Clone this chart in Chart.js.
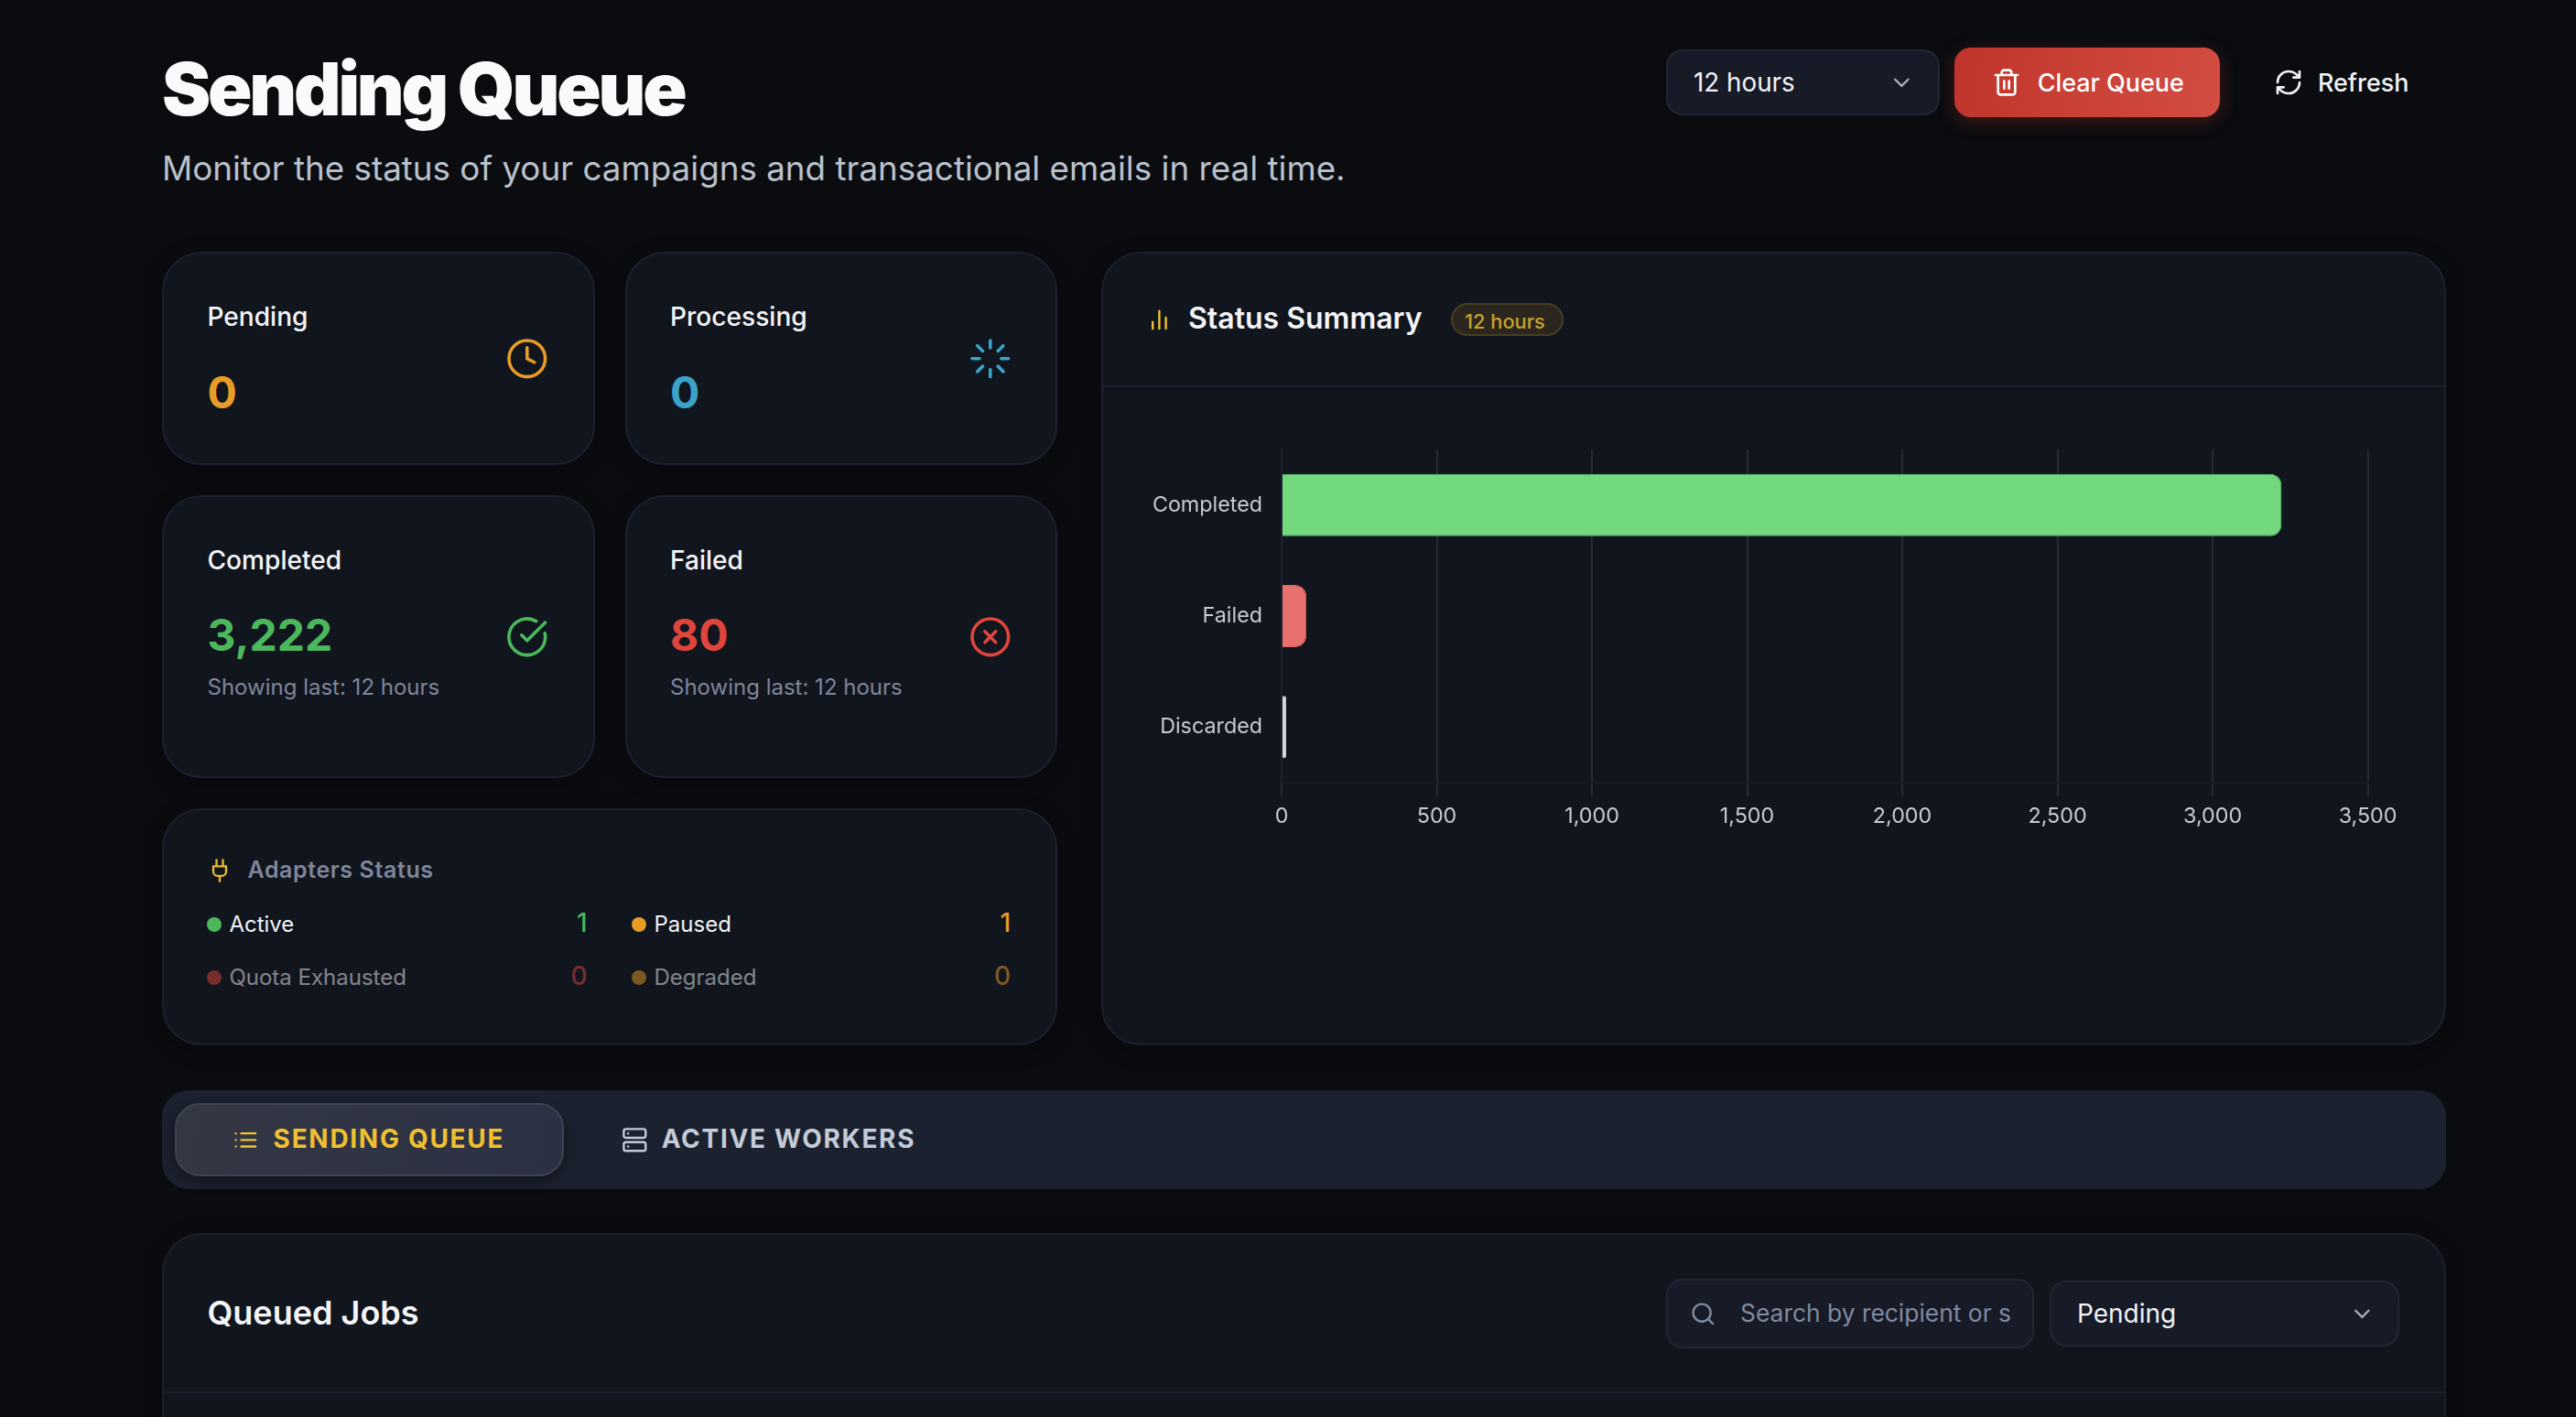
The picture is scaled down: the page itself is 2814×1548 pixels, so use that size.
<!DOCTYPE html>
<html><head><meta charset="utf-8">
<script src="https://cdn.jsdelivr.net/npm/chart.js@4"></script>
<style>
html,body{margin:0;padding:0;width:2814px;height:1548px;overflow:hidden;background:#0a0c10;font-family:Inter,sans-serif;}
#root{position:absolute;left:0;top:0;width:2814px;height:1548px;overflow:hidden;}
.box{position:absolute;box-sizing:border-box;}
.card{background:#11151e;border:2px solid #1b2030;border-radius:43px;box-shadow:0 5px 22px rgba(0,0,0,.32);}
.t{position:absolute;white-space:nowrap;line-height:0;}
svg{position:absolute;fill:none;stroke-linecap:round;stroke-linejoin:round;}
canvas{position:absolute;}
</style></head><body><div id="root"></div>
<script>
const categories=['Completed','Failed','Discarded'];
const statusValues=[3222,80,15];
const barColors=['#72d97f','#e8716d','#d5d8e0'];
const barEdges=['#6ad078','#d9625e','#d5d8e0'];
const xTicksMax=3500, xTicksStep=500;
const rangeLabel='12 hours';
const statCards=[['Pending','0'],['Processing','0'],['Completed','3,222'],['Failed','80']];
const adapterRows=[['Active','1'],['Paused','1'],['Quota Exhausted','0'],['Degraded','0']];

const ICON={
 clock:'<circle cx="12" cy="12" r="10"/><path d="M12 6v6l4 2"/>',
 loader:'<path d="M12 2v4M16.2 7.8l2.9-2.9M18 12h4M16.2 16.2l2.9 2.9M12 18v4M4.9 19.1l2.9-2.9M2 12h4M4.9 4.9l2.9 2.9"/>',
 check:'<path d="M21.801 10A10 10 0 1 1 17 3.335"/><path d="m9 11 3 3L22 4"/>',
 x:'<circle cx="12" cy="12" r="10"/><path d="m15 9-6 6M9 9l6 6"/>',
 plug:'<path d="M12 22v-5M9 8V2M15 8V2M18 8v5a4 4 0 0 1-4 4h-4a4 4 0 0 1-4-4V8Z"/>',
 trash:'<path d="M3 6h18M19 6v14c0 1-1 2-2 2H7c-1 0-2-1-2-2V6M8 6V4c0-1 1-2 2-2h4c1 0 2 1 2 2v2M10 11v6M14 11v6"/>',
 refresh:'<path d="M3 12a9 9 0 0 1 9-9 9.75 9.75 0 0 1 6.74 2.74L21 8M21 3v5h-5M21 12a9 9 0 0 1-9 9 9.75 9.75 0 0 1-6.74-2.74L3 16M8 16H3v5"/>',
 list:'<path d="M3 12h.01M3 18h.01M3 6h.01M8 12h13M8 18h13M8 6h13"/>',
 server:'<rect x="2" y="2" width="20" height="8" rx="2"/><rect x="2" y="14" width="20" height="8" rx="2"/><path d="M6 6h.01M6 18h.01"/>',
 search:'<circle cx="11" cy="11" r="8"/><path d="m21 21-4.3-4.3"/>',
 chevron:'<path d="m6 9 6 6 6-6"/>',
 bars:'<path d="M18 20V10M12 20V4M6 20v-6"/>'
};
const root=document.getElementById('root');
function box(x,y,x2,y2,cls,css){const d=document.createElement('div');d.className='box '+(cls||'');
 d.style.cssText=`left:${x}px;top:${y}px;width:${x2-x}px;height:${y2-y}px;`+(css||'');root.appendChild(d);return d;}
const BASE_NUDGE=0.5;
function text(x,base,s,fs,w,col,extra){const d=document.createElement('div');d.className='t';d.textContent=s;
 d.style.cssText=`left:${x}px;top:${base+BASE_NUDGE-0.364*fs}px;font-size:${fs}px;font-weight:${w};color:${col};`+(extra||'');root.appendChild(d);return d;}
function icon(name,cx,cy,size,col,sw,extra){const ns='http://www.w3.org/2000/svg';const s=document.createElementNS(ns,'svg');
 s.setAttribute('viewBox','0 0 24 24');s.setAttribute('width',size);s.setAttribute('height',size);
 s.style.cssText=`left:${cx-size/2}px;top:${cy-size/2}px;stroke:${col};stroke-width:${sw||2};`+(extra||'');s.innerHTML=ICON[name];root.appendChild(s);}

// header
text(177,126,'Sending Queue',80,900,'#f8fafc','letter-spacing:-3.25px;');
text(177,197,'Monitor the status of your campaigns and transactional emails in real time.',36.8,400,'#b9c1cc');
box(1820,54,2118.5,125.7,'','background:#171b27;border:2px solid #212635;border-radius:18px;');
text(1850,99.5,rangeLabel,27.8,400,'#f1f3f6');
icon('chevron',2077,90,28.7,'#a5adbd',2);
box(2134.7,52,2425,128,'','background:linear-gradient(100deg,#c0352b,#d44d42);border-radius:18px;box-shadow:0 5px 20px rgba(192,57,43,.3);');
icon('trash',2192.4,90,32,'#ffffff',2);
text(2225.7,99.5,'Clear Queue',26.9,500,'#ffffff');
icon('refresh',2500,90,32,'#f1f3f6',2);
text(2532,99.5,'Refresh',26.9,500,'#f1f3f6');

// stat cards
const cardRects=[[177,275,649.5,508],[682.5,275,1154.5,508],[177,541,649.5,850],[682.5,541,1154.5,850]];
const cardColors=['#e89c28','#3ba3c9','#4cb85c','#e0453c'];
const cardIcons=['clock','loader','check','x'];
const cardLabelBase=[356,356,622,622], cardValueBase=[446,446,711,711], cardIconY=[391.7,391.7,696,696];
statCards.forEach((c,i)=>{const r=cardRects[i];box(r[0],r[1],r[2],r[3],'card');
 text(r[0]+49.5,cardLabelBase[i],c[0],28.1,500,'#f4f5f7');
 text(r[0]+49.5,cardValueBase[i],c[1],48,700,cardColors[i]);
 icon(cardIcons[i],r[0]+398.8,cardIconY[i],47.6,cardColors[i],1.8);
 if(i>1)text(r[0]+49.5,759.6,'Showing last: '+rangeLabel,24,400,'#7f869b');
});

// adapters
box(177,883,1154.5,1142,'card');
icon('plug',239.7,950.6,28,'#e8bb2e',2);
text(270.5,959,'Adapters Status',25,600,'#7f869b','letter-spacing:.6px;');
const adapterX=[[233.7,250.4,641.5],[697.8,714.5,1104],[233.7,250.4,641.5],[697.8,714.5,1104]];
const adapterDot=['#4cb85c','#e89c28','#e0453c','#e89c28'];
adapterRows.forEach((a,i)=>{const p=adapterX[i];const row=i<2?0:1;const op=row?'opacity:.5;':'';
 const cy=row?1067.8:1009.8, b=row?1076:1018;
 box(p[0]-8,cy-8,p[0]+8,cy+8,'',`background:${adapterDot[i]};border-radius:50%;`+op);
 text(p[1],b,a[0],24,400,'#f1f3f6',op);
 const v=text(0,b,a[1],28,500,adapterDot[i],op);v.style.left='auto';v.style.right=(2814-p[2])+'px';
});

// status panel
box(1203,275,2671.5,1142,'card');
box(1205,421,2669.5,423,'','background:#1b2030;');
icon('bars',1266.7,349.6,28.8,'#f0c030',2);
text(1298,359.3,'Status Summary',32,600,'#f4f5f7');
box(1585,331,1707.7,366.7,'','background:#2b271e;border:2px solid #473d22;border-radius:18px;');
text(1600,358,rangeLabel,21.8,500,'#c9a22e');

// tabs
box(177,1191,2671.5,1298.7,'','background:#1b212e;border-radius:29px;');
box(191,1205,615.6,1284.7,'','background:linear-gradient(100deg,#343844,#2b3044);border:2px solid #3e4352;border-radius:27px;box-shadow:0 5px 14px rgba(0,0,0,.4);');
icon('list',268,1245,28.7,'#f0c030',2);
text(298.6,1254,'SENDING QUEUE',28,650,'#f0c030','letter-spacing:1.7px;');
icon('server',693.4,1245,28.7,'#c4cbd8',2);
text(722.7,1254,'ACTIVE WORKERS',28,650,'#c4cbd8','letter-spacing:1.7px;');

// queued
box(177,1347,2671.5,1640,'card');
box(179,1520,2669.5,1522,'','background:#1b2030;');
text(226.5,1447,'Queued Jobs',36,600,'#f4f5f7');
box(1820,1397,2221.6,1472.7,'','background:#171b27;border:2px solid #212635;border-radius:18px;');
icon('search',1860.6,1435,28.7,'#7f8aa0',2);
const ph=box(1901,1410,2198,1460,'','overflow:hidden;');
const pht=document.createElement('div');pht.textContent='Search by recipient or s';
pht.style.cssText='position:absolute;left:0;top:23.5px;line-height:0;white-space:nowrap;font-size:26.4px;color:#7f8aa0;';ph.appendChild(pht);
box(2238.6,1399,2621,1470.7,'','background:#171b27;border:2px solid #212635;border-radius:18px;');
text(2269,1444.7,'Pending',28,400,'#f1f3f6');
icon('chevron',2580,1435,28.7,'#a5adbd',2);

// chart
const cv=document.createElement('canvas');
cv.style.cssText='left:1240px;top:480px;width:1390px;height:425px;';root.appendChild(cv);
cv.width=1390;cv.height=425;
new Chart(cv,{type:'bar',data:{labels:categories,datasets:[{data:statusValues,backgroundColor:barColors,borderColor:barEdges,borderWidth:1,borderRadius:12,barPercentage:.7,categoryPercentage:.8}]},
 options:{indexAxis:'y',responsive:false,animation:false,devicePixelRatio:1,
 layout:{padding:{top:11,right:43.4,left:0,bottom:0}},
 plugins:{legend:{display:false},tooltip:{enabled:false}},
 scales:{
  x:{min:0,max:xTicksMax,grid:{color:'#262a36',lineWidth:2,tickLength:15,tickColor:'#262a36'},border:{color:'#161a23',width:2},
   afterFit(s){s.height=50;s.paddingLeft=0;s.paddingRight=0;s.paddingTop=0;s.paddingBottom=0;},
   ticks:{stepSize:xTicksStep,color:'#c6cad3',padding:8,maxRotation:0,font:{family:'Inter',size:23.3},callback:v=>v.toLocaleString('en-US')}},
  y:{grid:{display:false},border:{color:'#1e222e',width:2},afterFit(s){s.width=160;s.paddingTop=0;s.paddingBottom=0;s.paddingLeft=0;s.paddingRight=0;},
   ticks:{color:'#c6cad3',padding:13,font:{family:'Inter',size:23.3}}}
 }}});
</script></body></html>
